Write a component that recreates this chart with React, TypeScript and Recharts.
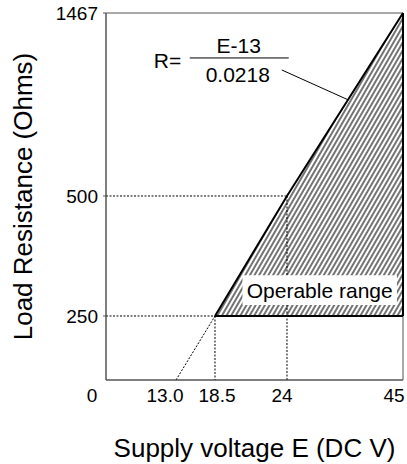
import { ComposedChart, XAxis, YAxis, Area, Line, ReferenceLine, ReferenceArea, ReferenceDot } from "recharts"

const FONT = '"Liberation Sans", Arial, Helvetica, sans-serif'

// limit line R = (E - 13) / 0.0218, read at the labelled points
const VOLTAGE = [13, 18.5, 24, 45]
const RESISTANCE = [0, 250, 500, 1467]
const MIN_LOAD = 250

const X_TICKS = [0, 13, 18.5, 24, 45]
const X_TICK_LABELS = ["0", "13.0", "18.5", "24", "45"]
const Y_STOPS = [0, 250, 500, 1467]
const Y_TICKS = [250, 500, 1467]

const points = VOLTAGE.map((e, i) => ({ e, r: RESISTANCE[i] }))
const extension = points.slice(0, 2)
const limit = points.slice(1)
const band = limit.map((p) => ({ e: p.e, band: [MIN_LOAD, p.r] }))
const floor = [
  { e: VOLTAGE[1], r: MIN_LOAD },
  { e: VOLTAGE[3], r: MIN_LOAD },
]
const rightEdge = [
  { e: VOLTAGE[3], r: MIN_LOAD },
  { e: VOLTAGE[3], r: RESISTANCE[3] },
]
const guides = [points[1], points[2]]

// the drawing is schematic: each labelled interval gets its own share of the axis
function schematicScale(stops: number[], shares: number[]) {
  let dom = [stops[0], stops[stops.length - 1]]
  let rng = [0, 1]
  const share = (v: number) => {
    for (let i = 0; i < stops.length - 1; i++) {
      if (v <= stops[i + 1] || i === stops.length - 2) {
        const t = (v - stops[i]) / (stops[i + 1] - stops[i])
        return shares[i] + t * (shares[i + 1] - shares[i])
      }
    }
    return 0
  }
  const scale: any = (v: number) => rng[0] + share(Number(v)) * (rng[1] - rng[0])
  scale.domain = (d?: number[]) => {
    if (d === undefined) return dom.slice()
    dom = d.slice()
    return scale
  }
  scale.range = (r?: number[]) => {
    if (r === undefined) return rng.slice()
    rng = r.slice()
    return scale
  }
  scale.copy = () => schematicScale(stops, shares).domain(dom).range(rng)
  scale.ticks = () => stops.slice()
  scale.tickFormat = () => (v: number) => String(v)
  scale.nice = () => scale
  scale.clamp = () => scale
  return scale
}

const xScale = schematicScale(X_TICKS, [0, 0.2357, 0.367, 0.6094, 1])
const yScale = schematicScale(Y_STOPS, [0, 0.1744, 0.5014, 1])

const XTick = ({ x, y, payload }: any) => {
  const i = X_TICKS.indexOf(payload.value)
  const label = X_TICK_LABELS[i] ?? String(payload.value)
  const dx: Record<string, number> = { "0": -14, "13.0": -11, "18.5": 2, "24": -5, "45": -9 }
  return (
    <text x={x + (dx[label] ?? 0)} y={y} dy="0.71em" textAnchor="middle" fontSize={19} fill="#000">
      {label}
    </text>
  )
}

const Formula = ({ cx, cy }: any) => (
  <g fill="#000" fontSize={21}>
    <text x={cx - 128} y={cy - 2}>R=</text>
    <line x1={cx - 92} x2={cx + 7} y1={cy - 12} y2={cy - 12} stroke="#000" strokeWidth={1} />
    <text x={cx - 43} y={cy - 17} textAnchor="middle">E-13</text>
    <text x={cx - 44} y={cy + 12} textAnchor="middle">0.0218</text>
  </g>
)

const dotted = { stroke: "#000", strokeWidth: 1, strokeDasharray: "2 1.5" }

export default function App() {
  return (
    <div style={{ position: "absolute", left: 0, top: 0, fontFamily: FONT, background: "#fff" }}>
      <svg width={0} height={0} style={{ position: "absolute" }}>
        <defs>
          <pattern id="hatch" width={4} height={4} patternUnits="userSpaceOnUse" patternTransform="rotate(30)">
            <line x1={2} y1={0} x2={2} y2={4} stroke="#000" strokeWidth={1.1} />
          </pattern>
        </defs>
      </svg>
      <ComposedChart width={407} height={464} margin={{ top: 13, right: 4, bottom: 0, left: 0 }}>
        <XAxis
          dataKey="e"
          type="number"
          domain={[0, 45]}
          scale={xScale}
          ticks={X_TICKS}
          interval={0}
          height={84}
          tick={<XTick />}
          tickLine={false}
          tickMargin={3}
          axisLine={{ stroke: "#555" }}
          label={{ value: "Supply voltage E (DC V)", position: "insideBottom", offset: 7, fontSize: 26, fill: "#000" }}
        />
        <YAxis
          type="number"
          domain={[0, 1467]}
          scale={yScale}
          ticks={Y_TICKS}
          interval={0}
          width={106}
          tickSize={3}
          tickMargin={5}
          tick={{ fontSize: 19, fill: "#000" }}
          tickLine={{ stroke: "#555" }}
          axisLine={{ stroke: "#555" }}
          label={{
            value: "Load Resistance (Ohms)",
            angle: -90,
            position: "insideLeft",
            offset: 23,
            fontSize: 26,
            fill: "#000",
            style: { textAnchor: "middle" },
          }}
        />
        <ReferenceArea x1={0} x2={45} y1={0} y2={1467} fill="none" stroke="#555" strokeWidth={1} zIndex={50} />
        <Area
          data={band}
          dataKey="band"
          type="linear"
          fill="url(#hatch)"
          fillOpacity={1}
          stroke="none"
          isAnimationActive={false}
          activeDot={false}
        />
        {guides.map((p) => (
          <ReferenceLine
            key={`h${p.e}`}
            segment={[
              { x: 0, y: p.r },
              { x: p.e, y: p.r },
            ]}
            {...dotted}
          />
        ))}
        {guides.map((p) => (
          <ReferenceLine
            key={`v${p.e}`}
            segment={[
              { x: p.e, y: p.r },
              { x: p.e, y: 0 },
            ]}
            {...dotted}
          />
        ))}
        <ReferenceArea
          x1={20.6}
          x2={43.9}
          y1={273}
          y2={335}
          fill="#fff"
          fillOpacity={1}
          stroke="none"
          zIndex={450}
          label={{ value: "Operable range", position: "center", fontSize: 21, fill: "#000" }}
        />
        <Line data={extension} dataKey="r" type="linear" {...dotted} dot={false} activeDot={false} isAnimationActive={false} />
        <Line data={limit} dataKey="r" type="linear" stroke="#000" strokeWidth={2} dot={false} activeDot={false} isAnimationActive={false} />
        <Line data={floor} dataKey="r" type="linear" stroke="#000" strokeWidth={2} dot={false} activeDot={false} isAnimationActive={false} />
        <Line data={rightEdge} dataKey="r" type="linear" stroke="#000" strokeWidth={2} dot={false} activeDot={false} isAnimationActive={false} />
        <ReferenceLine
          segment={[
            { x: 23.6, y: 1166 },
            { x: 35, y: 1009 },
          ]}
          stroke="#000"
          strokeWidth={1}
        />
        <ReferenceDot x={23.6} y={1166} r={1} shape={(p: any) => <Formula {...p} />} />
      </ComposedChart>
    </div>
  )
}
